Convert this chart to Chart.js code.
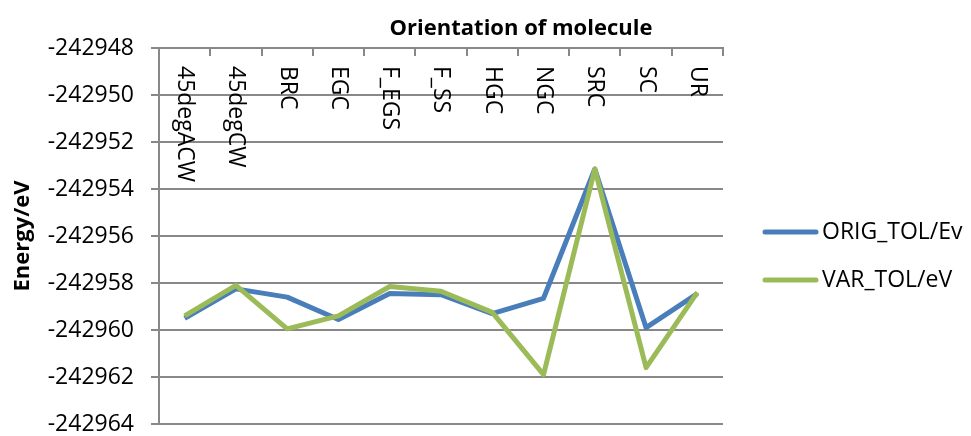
<!DOCTYPE html>
<html>
<head>
<meta charset="utf-8">
<script src="https://cdn.jsdelivr.net/npm/chart.js@4"></script>
<style>
  body{ margin:0; background:#fff; }
  #wrap{ width:971px; height:436px; position:relative; }
</style>
</head>
<body>
<div id="wrap"><canvas id="chart"></canvas></div>
<script>
// data
const categories = ["45degACW","45degCW","BRC","EGC","F_EGS","F_SS","HGC","NGC","SRC","SC","UR"];
const origTol = [-242959.5, -242958.25, -242958.6, -242959.55, -242958.45, -242958.5, -242959.3, -242958.65, -242953.15, -242959.9, -242958.45];
const varTol  = [-242959.4, -242958.1, -242959.95, -242959.4, -242958.15, -242958.35, -242959.25, -242961.9, -242953.15, -242961.6, -242958.4];
const seriesNames = ["ORIG_TOL/Ev", "VAR_TOL/eV"];
const seriesColors = ["#4a7ebb", "#9bbb59"];
const yMin = -242964, yMax = -242948, yStep = 2;
const xTitle = "Orientation of molecule";
const yTitle = "Energy/eV";

const FONT = "'Open Sans', 'DejaVu Sans', sans-serif";
const GRID = "#888888";

// category labels, inner tick marks, axis title and legend drawn by hand
const extrasPlugin = {
  id: "extras",
  afterDraw(chart){
    const ctx = chart.ctx;
    const area = chart.chartArea;
    const xs = chart.scales.x;
    ctx.save();

    // tick marks pointing down into the plot
    ctx.strokeStyle = GRID;
    ctx.lineWidth = 2;
    const step = (area.right - area.left) / categories.length;
    for(let i = 0; i <= categories.length; i++){
      const x = Math.round(area.left + i*step);
      ctx.beginPath();
      ctx.moveTo(x, area.top);
      ctx.lineTo(x, area.top + 8);
      ctx.stroke();
    }

    // rotated category labels hanging below the top axis
    ctx.fillStyle = "#000";
    ctx.font = "23px " + FONT;
    ctx.textAlign = "left";
    ctx.textBaseline = "middle";
    categories.forEach((c, i) => {
      const x = xs.getPixelForValue(i);
      ctx.save();
      ctx.translate(x, area.top + 18);
      ctx.rotate(Math.PI/2);
      ctx.fillText(c, 0, 0);
      ctx.restore();
    });

    // axis title
    ctx.font = "bold 22px " + FONT;
    ctx.textAlign = "center";
    ctx.fillText(xTitle, 521, 29);

    // legend
    ctx.font = "23px " + FONT;
    ctx.textAlign = "left";
    const legY = [232, 280];
    seriesNames.forEach((name, i) => {
      ctx.strokeStyle = seriesColors[i];
      ctx.lineWidth = 5;
      ctx.lineCap = "round";
      ctx.beginPath();
      ctx.moveTo(765, legY[i]);
      ctx.lineTo(816, legY[i]);
      ctx.stroke();
      ctx.fillStyle = "#000";
      ctx.fillText(name, 822, legY[i]);
    });
    ctx.restore();
  }
};

Chart.defaults.font.family = FONT;
Chart.defaults.color = "#000";

new Chart(document.getElementById("chart").getContext("2d"), {
  type: "line",
  data: {
    labels: categories,
    datasets: [
      { label: seriesNames[0], data: origTol, borderColor: seriesColors[0], backgroundColor: seriesColors[0],
        borderWidth: 5, pointRadius: 0, tension: 0, borderJoinStyle: "round", order: 2 },
      { label: seriesNames[1], data: varTol, borderColor: seriesColors[1], backgroundColor: seriesColors[1],
        borderWidth: 5, pointRadius: 0, tension: 0, borderJoinStyle: "round", order: 1 }
    ]
  },
  options: {
    responsive: true,
    maintainAspectRatio: false,
    animation: false,
    layout: { padding: { left: 0, right: 248, top: 0, bottom: 12 } },
    plugins: { legend: { display: false }, tooltip: { enabled: false } },
    scales: {
      x: {
        type: "category",
        position: "top",
        offset: true,
        grid: { display: false },
        border: { display: true, color: GRID, width: 2 },
        ticks: { display: false },
        afterFit(scale){ scale.height = 48; }
      },
      y: {
        min: yMin, max: yMax,
        grid: { color: GRID, lineWidth: 2, tickLength: 8 },
        border: { display: true, color: GRID, width: 2 },
        ticks: {
          stepSize: yStep,
          padding: 17,
          font: { size: 23 },
          callback: v => String(v)
        },
        title: { display: true, text: yTitle, font: { size: 22, weight: "bold" }, padding: { top: 10, bottom: 0 } },
        afterFit(scale){
          scale.width = 159;
          scale.paddingTop = 0;
          scale.paddingBottom = 0;
        }
      }
    }
  },
  plugins: [extrasPlugin]
});
</script>
</body>
</html>
